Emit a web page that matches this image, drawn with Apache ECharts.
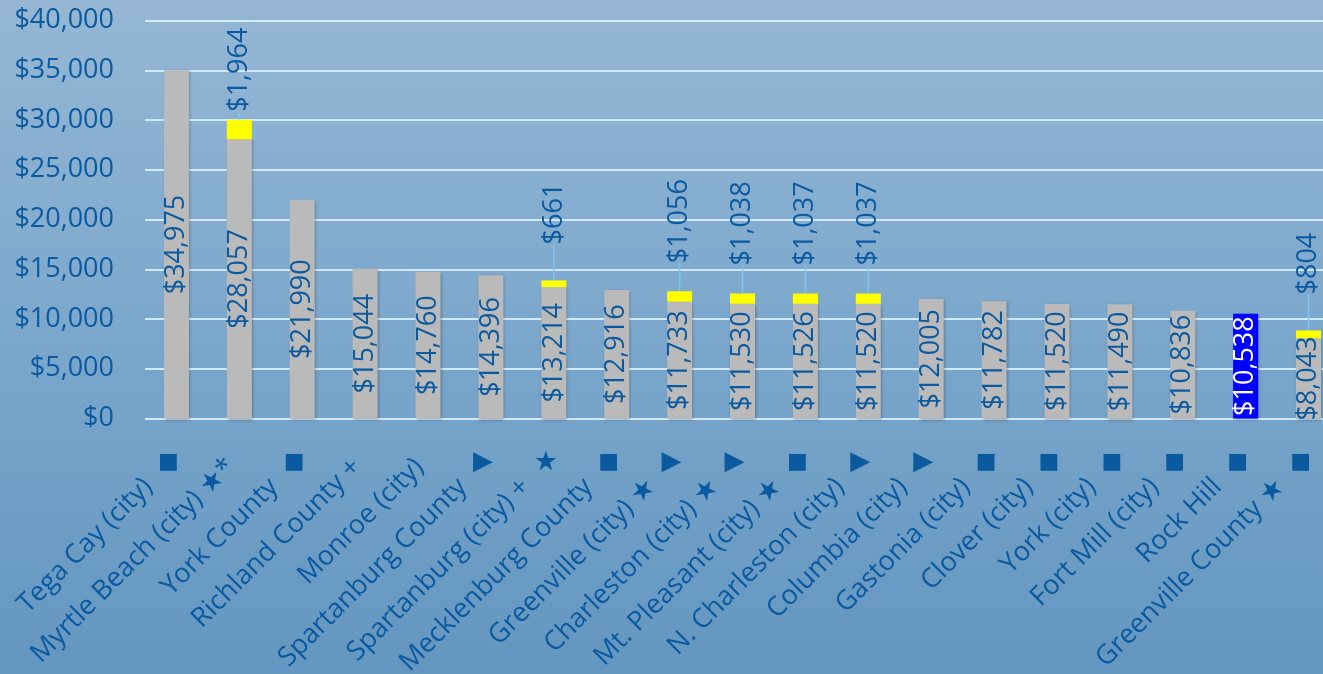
<!DOCTYPE html>
<html>
<head>
<meta charset="utf-8">
<script src="https://cdn.jsdelivr.net/npm/echarts@6/dist/echarts.min.js"></script>
<style>
  html, body { margin: 0; padding: 0; }
  #chart { width: 1323px; height: 674px; }
</style>
</head>
<body>
<div id="chart"></div>
<script>
// 지역 이름 (회전 라벨) 과 뒤에 붙는 기호
const categories = [
  'Tega Cay (city)', 'Myrtle Beach (city) ★*', 'York County', 'Richland County +',
  'Monroe (city)', 'Spartanburg County', 'Spartanburg (city) +', 'Mecklenburg County',
  'Greenville (city) ★', 'Charleston (city) ★', 'Mt. Pleasant (city) ★', 'N. Charleston (city)',
  'Columbia (city)', 'Gastonia (city)', 'Clover (city)', 'York (city)',
  'Fort Mill (city)', 'Rock Hill', 'Greenville County ★'
]
const markers = ['■', '', '■', '', '', '▶', '★', '■', '▶', '▶', '■', '▶', '▶', '■', '■', '■', '■', '■', '■']

// 기본 금액 / 추가 금액
const baseValues = [
  34975, 28057, 21990, 15044, 14760, 14396, 13214, 12916, 11733, 11530,
  11526, 11520, 12005, 11782, 11520, 11490, 10836, 10538, 8043
]
const extraValues = [
  null, 1964, null, null, null, null, 661, null, 1056, 1038,
  1037, 1037, null, null, null, null, null, null, 804
]
const yTicks = { min: 0, max: 40000, interval: 5000 }

const textColor = '#0b5aa0'
const fontFamily = 'Open Sans'
const highlight = 'Rock Hill'

const money = v => '$' + Math.round(v).toLocaleString('en-US')
const markerKey = { '■': 'sq', '▶': 'tri', '★': 'star' }

const chart = echarts.init(document.getElementById('chart'))

const option = {
  backgroundColor: new echarts.graphic.LinearGradient(0, 0, 0, 1, [
    { offset: 0, color: '#95b7d4' },
    { offset: 0.5, color: '#7ba7cc' },
    { offset: 1, color: '#6396c0' }
  ]),
  textStyle: { fontFamily },
  animation: false,
  grid: { left: 145, right: -17, top: 20.5, bottom: 255.5, outerBoundsMode: 'none' },
  xAxis: [
    {
      type: 'category',
      data: categories,
      axisLine: { show: false },
      axisTick: { show: false },
      axisLabel: {
        interval: 0,
        rotate: 45,
        margin: 36,
        fontSize: 27,
        color: textColor,
        fontFamily,
        // 기호가 붙는 라벨은 뒤쪽 여백을 더 줌
        formatter: (v, i) => v + (markers[i] ? '{s| }' : '{g| }'),
        rich: {
          g: { width: 12 },
          s: { width: 40 }
        }
      }
    },
    {
      type: 'category',
      data: categories,
      position: 'bottom',
      axisLine: { show: false },
      axisTick: { show: false },
      axisLabel: {
        interval: 0,
        margin: 44,
        verticalAlign: 'middle',
        color: textColor,
        fontFamily: 'DejaVu Sans',
        padding: [0, 16, 0, 0],
        formatter: (v, i) => (markers[i] ? `{${markerKey[markers[i]]}|${markers[i]}}` : ''),
        rich: {
          sq: { fontSize: 22, color: textColor, fontFamily: 'DejaVu Sans' },
          tri: { fontSize: 26, color: textColor, fontFamily: 'DejaVu Sans' },
          star: { fontSize: 27, color: textColor, fontFamily: 'DejaVu Sans' }
        }
      }
    }
  ],
  yAxis: {
    type: 'value',
    min: yTicks.min,
    max: yTicks.max,
    interval: yTicks.interval,
    axisLine: { show: false },
    axisTick: { show: false },
    axisLabel: {
      margin: 31,
      fontSize: 27,
      color: textColor,
      fontFamily,
      formatter: money
    },
    splitLine: { lineStyle: { color: '#d2e8fb', width: 2 } }
  },
  series: [
    {
      name: 'base',
      type: 'bar',
      stack: 'total',
      barWidth: 25,
      itemStyle: {
        color: '#bababa',
        shadowColor: 'rgba(0,0,0,0.3)',
        shadowBlur: 3,
        shadowOffsetX: 1,
        shadowOffsetY: 1
      },
      label: {
        show: true,
        position: 'inside',
        rotate: 90,
        fontSize: 27,
        color: textColor,
        fontFamily,
        formatter: p => money(p.value)
      },
      data: baseValues.map((v, i) =>
        categories[i] === highlight
          ? { value: v, itemStyle: { color: '#0000ff' }, label: { color: '#ffffff' } }
          : v
      )
    },
    {
      name: 'extra',
      type: 'bar',
      stack: 'total',
      barWidth: 25,
      itemStyle: { color: '#ffff00' },
      label: {
        show: true,
        position: 'top',
        distance: 8,
        rotate: 90,
        align: 'left',
        verticalAlign: 'middle',
        fontSize: 27,
        color: textColor,
        fontFamily,
        formatter: p => (p.value ? money(p.value) : '')
      },
      labelLine: { show: true, lineStyle: { color: '#7cc4f5', width: 1.5 } },
      // 첫 번째 라벨 외에는 위로 띄우고 지시선 표시 (회전된 좌표라 dx 가 위쪽)
      labelLayout: p => {
        if (p.dataIndex === 1) return {}
        return { dx: p.dataIndex === 6 || p.dataIndex === 18 ? 28 : 20 }
      },
      data: extraValues
    }
  ]
}

chart.setOption(option)
</script>
</body>
</html>
